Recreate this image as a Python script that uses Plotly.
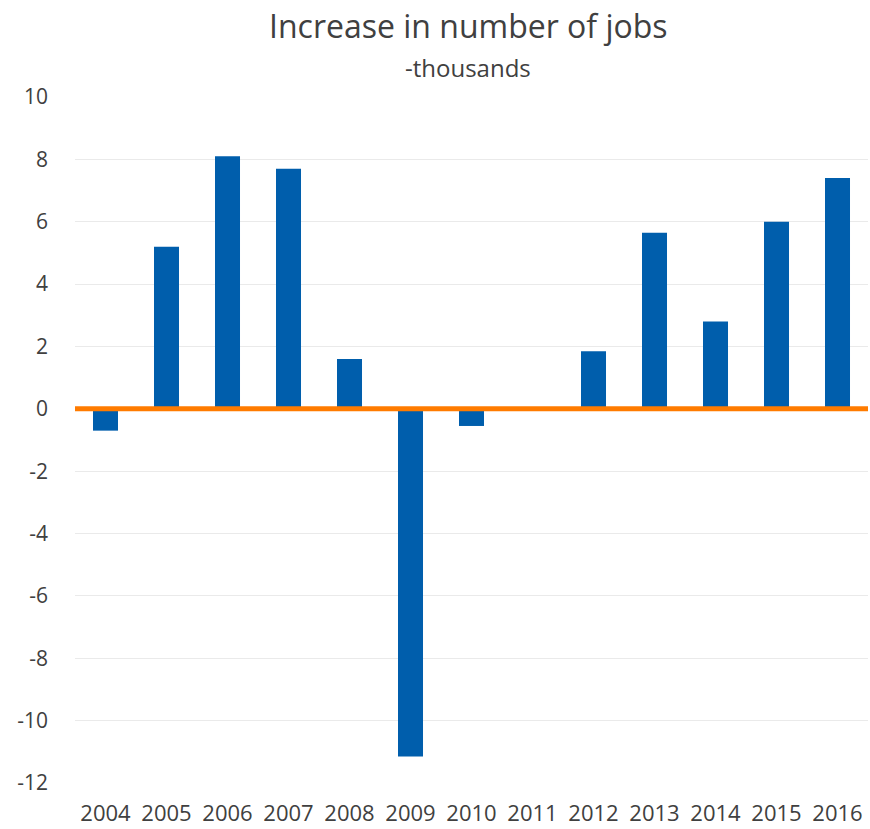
import plotly.graph_objects as go

years = ["2004", "2005", "2006", "2007", "2008", "2009", "2010", "2011", "2012", "2013", "2014", "2015", "2016"]
jobs_increase = [-0.7, 5.2, 8.1, 7.7, 1.6, -11.15, -0.55, 0.0, 1.85, 5.65, 2.8, 6.0, 7.4]
y_ticks = [10, 8, 6, 4, 2, 0, -2, -4, -6, -8, -10, -12]

font_family = "Open Sans, Noto Sans, sans-serif"
text_color = "#404040"

fig = go.Figure()
fig.add_trace(go.Bar(
    x=years,
    y=jobs_increase,
    marker=dict(color="#005EAC", line=dict(width=0)),
    hoverinfo="x+y",
))

fig.add_shape(
    type="line", xref="paper", yref="y", x0=0, x1=1, y0=0, y1=0,
    line=dict(color="#FF7B00", width=5), layer="above",
)

fig.add_annotation(
    text="Increase in number of jobs", xref="paper", yref="paper",
    x=0.4956, y=1.1035, xanchor="center", yanchor="middle", showarrow=False,
    font=dict(family=font_family, size=32, color=text_color),
)
fig.add_annotation(
    text="-thousands", xref="paper", yref="paper",
    x=0.4956, y=1.0437, xanchor="center", yanchor="middle", showarrow=False,
    font=dict(family=font_family, size=24, color=text_color),
)

fig.update_layout(
    width=870, height=829,
    margin=dict(l=75, r=2, t=97, b=46),
    paper_bgcolor="white", plot_bgcolor="white",
    bargap=0.59,
    showlegend=False,
    font=dict(family=font_family, size=21, color=text_color),
    xaxis=dict(
        type="category", showgrid=False, showline=False, ticks="",
        ticklabelstandoff=15,
        tickfont=dict(size=22, color=text_color),
    ),
    yaxis=dict(
        range=[-12, 10], tickvals=y_ticks, ticktext=[str(v) for v in y_ticks],
        showgrid=True, gridcolor="#EAEAEA", gridwidth=1,
        zeroline=False, showline=False, ticks="",
        ticklabelstandoff=26,
        tickfont=dict(size=21, color=text_color),
    ),
)

fig.write_html("out.html")
